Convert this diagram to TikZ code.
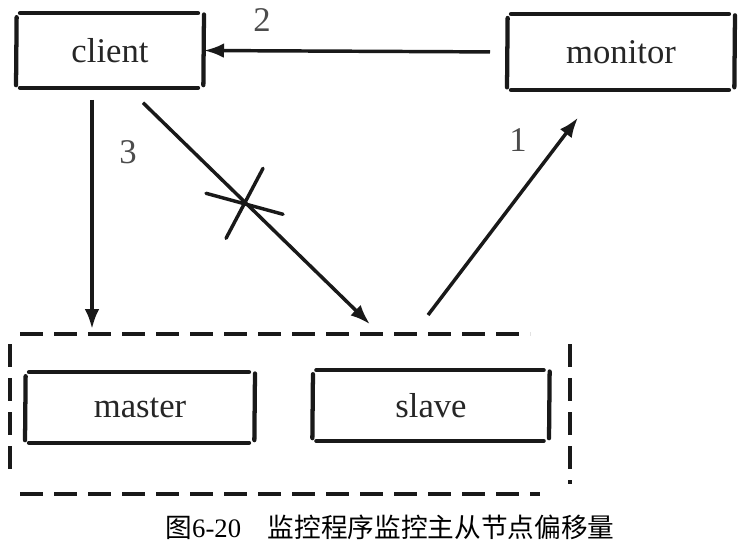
\documentclass[tikz,border=0pt]{standalone}
\usepackage{fontspec}
\setmainfont{Liberation Serif}
\newfontfamily\cjk{Noto Sans CJK SC}
\usetikzlibrary{arrows.meta}

\tikzset{every picture/.style={line width=0.75pt}}
\tikzset{
	box/.style={inner sep=0pt, outer sep=0pt, minimum height=53pt, text=black!85, font=\fontsize{26}{30}\selectfont},
	stroke/.style={line width=3.2pt, line cap=round, black!90},
	conn/.style={line width=2.6pt, black!90, -{Latex[length=15pt,width=11pt]}},
	dashline/.style={line width=3.2pt, black!90, dash pattern=on 17pt off 8.5pt},
	lbl/.style={inner sep=0.75pt, text=black!70, font=\fontsize{26}{30}\selectfont}
}

% hand drawn box round a node
\newcommand{\roughbox}[1]{%
	\draw[stroke, shorten <=3pt, shorten >=4.5pt] (#1.north west) -- (#1.north east);
	\draw[stroke, shorten <=3pt, shorten >=4.5pt] (#1.south west) -- (#1.south east);
	\draw[stroke, shorten <=3pt, shorten >=2pt] ([xshift=0.5pt]#1.north west) -- (#1.south west);
	\draw[stroke, shorten <=1pt, shorten >=2pt] (#1.north east) -- ([xshift=-0.5pt]#1.south east);
}

\begin{document}
\begin{tikzpicture}[x=0.75pt,y=0.75pt,yscale=-1,xscale=1]
	\useasboundingbox (0,0) rectangle (744,543);
	
	% Nodes
	\node[box, minimum width=141pt, minimum height=56pt] (client) at (110,50.5) {client};
	\node[box, minimum width=171pt, minimum height=57pt] (monitor) at (621,52) {monitor};
	\node[box, minimum width=172.5pt] (master) at (140,407.5) {master};
	\node[box, minimum width=178pt] (slave) at (431,405.5) {slave};
	\node[inner sep=0pt, outer sep=0pt, minimum width=420pt, minimum height=120pt] (group) at (290,414) {};
	
	\roughbox{client}
	\roughbox{monitor}
	\roughbox{master}
	\roughbox{slave}
	
	%Dashed group
	\draw[dashline, shorten <=7.5pt, shorten >=30pt] (group.north west) -- (group.north east);
	\draw[dashline, shorten <=7.5pt, shorten >=22.5pt] (group.south west) -- (group.south east);
	\draw[dashline, shorten <=7.5pt, shorten >=11pt] (group.north west) -- (group.south west);
	\draw[dashline, shorten <=7.5pt, shorten >=7.5pt] (group.north east) -- (group.south east);
	
	%Straight Lines
	\draw[conn, shorten <=12.75pt] (monitor.west) -- (client.east);
	%Straight Lines
	\draw[conn, shorten <=9pt, shorten >=3.75pt] ([xshift=-13.5pt]client.south) -- ([xshift=-13.5pt]client.south |- group.north);
	%Straight Lines
	\draw[conn, shorten <=16pt, shorten >=10.5pt] ([xshift=13.3pt]client.south) -- coordinate[pos=0.465] (cut) ([xshift=67.5pt]group.north);
	\draw[stroke, line width=2.6pt] (cut) ++(-39,-9) -- ++(77,21);
	\draw[stroke, line width=2.6pt] (cut) ++(18,-34) -- ++(-37,70);
	%Straight Lines
	\draw[conn, shorten <=17.9pt, shorten >=26pt] ([xshift=92.7pt]group.north) -- ([xshift=-16.5pt]monitor.south);
	
	% Text Node
	\node[lbl] (two) at (262,20) {2};
	% Text Node
	\node[lbl] (three) at (128,152) {3};
	% Text Node
	\node[lbl] (one) at (518,140) {1};
	% Text Node
	\node[inner sep=0.75pt, font=\fontsize{20}{24}\selectfont] (caption) at (390,527) {{\cjk 图}6-20\quad{\cjk 监控程序监控主从节点偏移量}};
\end{tikzpicture}
\end{document}
